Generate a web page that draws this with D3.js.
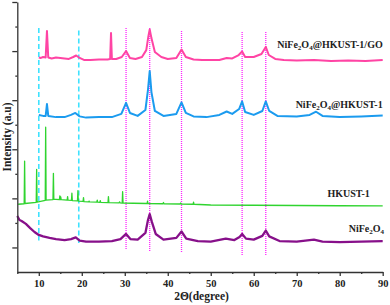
<!DOCTYPE html>
<html>
<head>
<meta charset="utf-8">
<script src="https://cdn.jsdelivr.net/npm/d3@7"></script>
<style>
  body { margin: 0; background: #fff; }
  svg text { font-family: "Liberation Serif", "Times New Roman", serif; font-weight: bold; fill: #222; }
</style>
</head>
<body>
<svg id="chart"></svg>
<script>
// 2θ / stacked intensity (a.u.)
const goData = [[10.0,8.74],[10.5,8.72],[11.0,8.76],[11.6,8.74],[11.9,9.82],[12.2,8.74],[13,8.70],[14,8.74],[15,8.72],[16,8.70],[17,8.68],[18,8.76],[18.7,8.82],[19.5,8.72],[20.5,8.64],[22,8.64],[24,8.66],[26,8.66],[26.6,8.68],[26.8,9.74],[27.0,8.68],[28,8.68],[29.3,8.76],[30.3,9.00],[31.2,8.72],[32.5,8.68],[34,8.76],[35,9.04],[35.5,9.61],[35.8,9.88],[36.2,9.53],[37,8.96],[38.5,8.76],[40,8.68],[42,8.72],[43.2,9.06],[44.2,8.76],[46,8.66],[48,8.64],[50,8.64],[52,8.64],[53.7,8.72],[55,8.70],[56.5,8.84],[57.3,8.98],[58,8.76],[60,8.76],[61.8,8.88],[62.8,9.17],[63.5,8.84],[65,8.68],[67,8.64],[70,8.62],[74,8.64],[78,8.60],[82,8.62],[86,8.60],[90,8.64]];

const compData = [[10.0,6.40],[11,6.36],[11.6,6.36],[11.9,6.84],[12.2,6.36],[14,6.31],[16,6.31],[17.5,6.40],[18.5,6.48],[19.5,6.34],[21,6.29],[24,6.31],[27,6.31],[29.2,6.44],[30.3,6.89],[31.2,6.48],[33,6.36],[34.8,6.60],[35.4,7.42],[35.8,8.19],[36.2,7.33],[37,6.56],[39,6.36],[42,6.44],[43.2,6.91],[44.2,6.48],[46,6.34],[49,6.31],[52,6.40],[53.7,6.54],[55,6.44],[56.6,6.64],[57.3,6.95],[58,6.52],[60,6.40],[62,6.56],[62.8,6.95],[63.6,6.56],[65.5,6.36],[70,6.34],[73,6.40],[74.5,6.53],[76,6.36],[80,6.31],[85,6.34],[90,6.38]];

const hkustData = [[5.2,2.76],[6.6,2.78],[6.7,4.52],[6.8,2.79],[9.4,2.84],[9.5,4.18],[9.6,2.85],[11.5,2.92],[11.6,5.90],[11.7,2.93],[13.3,2.95],[13.4,4.02],[13.5,2.96],[14.0,2.96],[14.8,2.95],[14.9,3.10],[15.0,2.95],[15.1,3.06],[15.2,2.95],[16.6,2.93],[16.7,3.07],[16.8,2.93],[17.6,2.92],[17.7,3.21],[17.8,2.91],[19.0,2.90],[19.1,3.31],[19.2,2.89],[20.3,2.88],[20.4,3.03],[20.5,2.87],[21.6,2.86],[21.7,2.89],[21.8,2.86],[23.5,2.85],[23.6,2.93],[23.7,2.85],[24.2,2.84],[24.3,2.91],[24.4,2.84],[26.1,2.83],[26.2,3.07],[26.3,2.83],[28.7,2.82],[28.8,2.86],[28.9,2.82],[29.4,2.81],[29.5,3.27],[29.6,2.81],[32,2.80],[35.2,2.79],[35.3,2.89],[35.4,2.79],[38.9,2.78],[39.0,2.83],[39.1,2.78],[42.9,2.77],[43.0,2.81],[43.1,2.77],[45.9,2.76],[46.0,2.85],[46.1,2.76],[50,2.73],[60,2.72],[70,2.71],[80,2.70],[90,2.69]];

const ferriteData = [[5.0,2.28],[5.5,2.12],[6.0,2.08],[7.0,1.96],[8.0,1.79],[9.0,1.63],[10.0,1.51],[11.0,1.45],[12.5,1.39],[14,1.34],[16,1.30],[17.5,1.34],[18.6,1.41],[19.5,1.28],[21,1.24],[24,1.24],[27,1.26],[29,1.34],[30.3,1.55],[31.3,1.34],[33,1.32],[34.8,1.59],[35.4,2.12],[35.8,2.36],[36.3,2.04],[37.2,1.55],[39,1.32],[42,1.39],[43.2,1.65],[44.3,1.36],[47,1.26],[50,1.24],[53.5,1.36],[55.5,1.30],[56.7,1.43],[57.3,1.55],[58.2,1.36],[60,1.32],[62,1.47],[62.8,1.69],[63.6,1.45],[66,1.26],[70,1.24],[74,1.32],[76,1.24],[80,1.22],[85,1.24],[90,1.26]];

const seriesNames = ["NiFe|2|O|4|@HKUST-1/GO", "NiFe|2|O|4|@HKUST-1", "HKUST-1", "NiFe|2|O|4"];
const seriesColors = ["#ff44a4", "#1b9bef", "#2fd42f", "#87108a"];
const labelX = [90, 90, 87, 90.3];
const labelY = [9.14, 6.69, 3.04, 1.64];

// reference lines: [2θ, top, bottom]
const hkustLines = [[10.0, 9.94, 1.28], [19.3, 9.84, 1.18]];
const ferriteLines = [[30.3, 9.94, 0.90], [35.8, 9.94, 0.81], [43.2, 9.82, 0.77], [57.3, 9.78, 0.69], [62.8, 9.78, 0.65]];

const xTicks = [10, 20, 30, 40, 50, 60, 70, 80, 90];
const xMinor = [5, 15, 25, 35, 45, 55, 65, 75, 85];
const yTicks = [1, 3, 5, 7, 9, 11];
const yMinor = [2, 4, 6, 8, 10];

const width = 390, height = 305;
const margin = { top: 2, right: 7.3, bottom: 33, left: 17.3 };

const svg = d3.select('#chart')
    .attr('width', width)
    .attr('height', height);

const x = d3.scaleLinear().domain([5, 90]).range([margin.left, width - margin.right]);
const y = d3.scaleLinear().domain([0, 11]).range([height - margin.bottom, margin.top]);

// reference lines behind the curves
svg.selectAll('.hk-line')
    .data(hkustLines)
    .enter().append('line')
    .attr('x1', d => x(d[0])).attr('x2', d => x(d[0]))
    .attr('y1', d => y(d[1])).attr('y2', d => y(d[2]))
    .attr('stroke', '#3fe2ff')
    .attr('stroke-width', 1.6)
    .attr('stroke-dasharray', '5,3');

svg.selectAll('.fe-line')
    .data(ferriteLines)
    .enter().append('line')
    .attr('x1', d => x(d[0])).attr('x2', d => x(d[0]))
    .attr('y1', d => y(d[1])).attr('y2', d => y(d[2]))
    .attr('stroke', '#ff22ff')
    .attr('stroke-width', 1.3)
    .attr('stroke-dasharray', '1,1');

const line = d3.line().x(d => x(d[0])).y(d => y(d[1]));
const allData = [goData, compData, hkustData, ferriteData];
const widths = [2, 2, 1.3, 2.3];

svg.selectAll('.curve')
    .data(allData)
    .enter().append('path')
    .attr('class', 'curve')
    .attr('fill', 'none')
    .attr('stroke', (d, i) => seriesColors[i])
    .attr('stroke-width', (d, i) => widths[i])
    .attr('stroke-linejoin', 'round')
    .attr('d', line);

// axes
const axisG = svg.append('g');
const xAxis = axisG.append('g')
    .attr('transform', `translate(0,${y(0)})`)
    .call(d3.axisBottom(x).tickValues(xTicks).tickSize(4).tickSizeOuter(0).tickPadding(4));
axisG.append('g')
    .attr('transform', `translate(0,${y(0)})`)
    .call(d3.axisBottom(x).tickValues(xMinor).tickSize(2).tickFormat('').tickSizeOuter(0))
    .select('.domain').remove();
axisG.append('g')
    .attr('transform', `translate(${x(5)},0)`)
    .call(d3.axisLeft(y).tickValues(yTicks).tickSize(5).tickFormat('').tickSizeOuter(0));
axisG.append('g')
    .attr('transform', `translate(${x(5)},0)`)
    .call(d3.axisLeft(y).tickValues(yMinor).tickSize(2).tickFormat('').tickSizeOuter(0))
    .select('.domain').remove();

axisG.selectAll('.domain, .tick line').attr('stroke', '#333').attr('stroke-width', 1.3);
xAxis.selectAll('.tick text')
    .attr('font-size', 10.5)
    .attr('fill', '#222')
    .style('font-family', '"Liberation Serif", serif')
    .style('font-weight', 'bold');

// axis titles
svg.append('text')
    .attr('x', 201.5).attr('y', 300)
    .attr('text-anchor', 'middle')
    .attr('font-size', 11.5)
    .text('2Θ(degree)');

svg.append('text')
    .attr('transform', 'translate(10.5,137) rotate(-90)')
    .attr('text-anchor', 'middle')
    .attr('font-size', 11.5)
    .text('Intensity (a.u)');

// curve labels with subscripts
seriesNames.forEach((name, i) => {
    const t = svg.append('text')
        .attr('x', x(labelX[i]))
        .attr('y', y(labelY[i]))
        .attr('text-anchor', 'end')
        .attr('font-size', 10);
    name.split('|').forEach((part, j) => {
        const sub = j % 2 === 1;
        t.append('tspan')
            .attr('font-size', sub ? 7 : 10)
            .attr('dy', sub ? 2 : (j > 0 ? -2 : 0))
            .text(part);
    });
});
</script>
</body>
</html>
